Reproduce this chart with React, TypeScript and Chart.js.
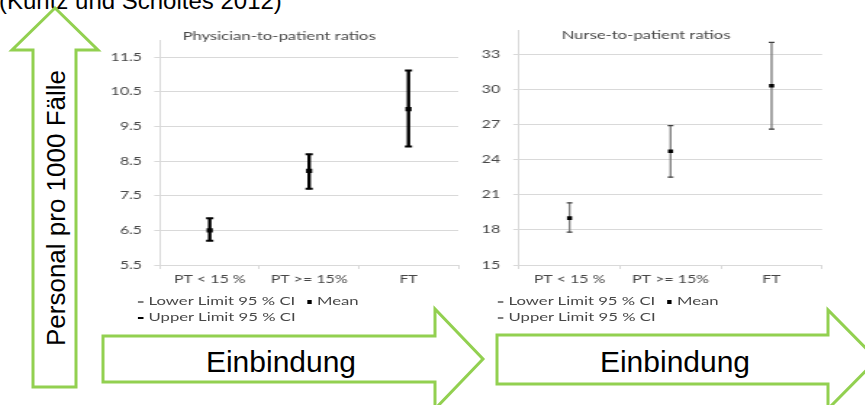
import React, { useEffect, useRef } from 'react';
import { Chart, registerables } from 'chart.js';

Chart.register(...registerables);

// ---- data ----
const categories = ['PT < 15 %', 'PT >= 15%', 'FT'];

const physicianMean = [6.5, 8.22, 10.0];
const physicianLower = [6.2, 7.7, 8.92];
const physicianUpper = [6.85, 8.7, 11.12];
const physicianTicks = [5.5, 6.5, 7.5, 8.5, 9.5, 10.5, 11.5];

const nurseMean = [19.0, 24.7, 30.3];
const nurseLower = [17.8, 22.5, 26.6];
const nurseUpper = [20.3, 26.9, 34.0];
const nurseTicks = [15, 18, 21, 24, 27, 30, 33];

const legendLabels = ['Lower Limit 95 % CI', 'Mean', 'Upper Limit 95 % CI'];

const STRETCH = 1.45;
const FONT = 'Lato, "Open Sans", sans-serif';
const GREY_TEXT = '#474747';
const GRID = '#d9d9d9';

type ChartProps = {
  left: number;
  top: number;
  canvasW: number;
  canvasH: number;
  title: string;
  titlePadTop: number;
  titlePadBottom: number;
  mean: number[];
  lower: number[];
  upper: number[];
  yMin: number;
  yMax: number;
  yTicks: number[];
  yWidth: number;
  yPad: number;
  padRight: number;
  barW: number;
  barColor: string;
  capColor: string;
  capW: number;
  capR: number;
  meanR: number;
  legendLeft: number;
  lowerDash: string;
  upperDash: string;
};

function ErrorChart(p: ChartProps) {
  const ref = useRef<HTMLCanvasElement | null>(null);

  useEffect(() => {
    if (!ref.current) return;
    const chart = new Chart(ref.current, {
      type: 'bar',
      data: {
        labels: categories,
        datasets: [
          {
            type: 'line',
            label: legendLabels[1],
            data: p.mean,
            showLine: false,
            pointStyle: 'rect',
            pointRadius: p.meanR,
            pointBackgroundColor: '#000000',
            pointBorderWidth: 0,
            order: 0,
          } as any,
          {
            type: 'line',
            label: legendLabels[0],
            data: p.lower,
            showLine: false,
            pointStyle: 'line',
            pointRadius: p.capR,
            pointBorderColor: p.capColor,
            pointBorderWidth: p.capW,
            order: 1,
          } as any,
          {
            type: 'line',
            label: legendLabels[2],
            data: p.upper,
            showLine: false,
            pointStyle: 'line',
            pointRadius: p.capR,
            pointBorderColor: p.capColor,
            pointBorderWidth: p.capW,
            order: 1,
          } as any,
          {
            type: 'bar',
            label: 'CI',
            data: p.lower.map((l, i) => [l, p.upper[i]]),
            backgroundColor: p.barColor,
            barThickness: p.barW,
            borderWidth: 0,
            order: 2,
          } as any,
        ],
      },
      options: {
        animation: false,
        responsive: false,
        maintainAspectRatio: false,
        devicePixelRatio: 1,
        events: [],
        layout: { padding: { top: 0, left: 0, bottom: 0, right: p.padRight } },
        plugins: {
          legend: { display: false },
          tooltip: { enabled: false },
          title: {
            display: true,
            text: p.title,
            color: GREY_TEXT,
            font: { family: FONT, size: 11.5, weight: 'normal', lineHeight: 1.2 },
            padding: { top: p.titlePadTop, bottom: p.titlePadBottom },
          },
        },
        scales: {
          x: {
            type: 'category',
            offset: true,
            grid: {
              offset: true,
              drawOnChartArea: false,
              drawTicks: true,
              tickLength: 4,
              color: GRID,
            },
            border: { color: GRID, width: 1 },
            ticks: {
              color: GREY_TEXT,
              font: { family: FONT, size: 11 },
              padding: 3.4,
              maxRotation: 0,
              autoSkip: false,
            },
            afterFit: (s: any) => {
              s.height = 30;
            },
          },
          y: {
            type: 'linear',
            min: p.yMin,
            max: p.yMax,
            afterBuildTicks: (s: any) => {
              s.ticks = p.yTicks.map((v) => ({ value: v }));
            },
            ticks: {
              color: GREY_TEXT,
              font: { family: FONT, size: 11 },
              padding: p.yPad,
              callback: (v: any) => String(v),
            },
            grid: { color: GRID, tickLength: 4, drawTicks: true },
            border: { color: GRID, width: 1 },
            afterFit: (s: any) => {
              s.width = p.yWidth;
              s.paddingTop = 0;
              s.paddingBottom = 0;
            },
          },
        },
      } as any,
    });
    return () => chart.destroy();
  }, []);

  const dash = (color: string) => (
    <span
      style={{
        display: 'inline-block',
        width: 4,
        height: 1.5,
        background: color,
        marginRight: 4,
        verticalAlign: 'middle',
      }}
    />
  );

  return (
    <div
      style={{
        position: 'absolute',
        left: p.left,
        top: p.top,
        width: p.canvasW,
        height: p.canvasH,
        transform: `scaleX(${STRETCH})`,
        transformOrigin: '0 0',
      }}
    >
      <canvas
        ref={ref}
        width={p.canvasW}
        height={p.canvasH}
        style={{ display: 'block', width: p.canvasW, height: p.canvasH }}
      />
      <div
        style={{
          position: 'absolute',
          left: p.legendLeft,
          top: 268,
          fontFamily: FONT,
          fontSize: 11.5,
          lineHeight: '16px',
          color: GREY_TEXT,
          whiteSpace: 'nowrap',
        }}
      >
        <div>
          {dash(p.lowerDash)}
          <span>{legendLabels[0]}</span>
          <span
            style={{
              display: 'inline-block',
              width: 3,
              height: 4,
              background: '#000',
              marginLeft: 8,
              marginRight: 4,
              verticalAlign: 'middle',
            }}
          />
          <span>{legendLabels[1]}</span>
        </div>
        <div>
          {dash(p.upperDash)}
          <span>{legendLabels[2]}</span>
        </div>
      </div>
    </div>
  );
}

const GREEN = '#92D050';
const SLIDE_FONT = '"Liberation Sans", Arial, sans-serif';

export default function App() {
  return (
    <div
      style={{
        position: 'fixed',
        left: 0,
        top: 0,
        width: 865,
        height: 405,
        overflow: 'hidden',
        background: '#ffffff',
      }}
    >
      <svg
        width={865}
        height={405}
        style={{ position: 'absolute', left: 0, top: 0 }}
      >
        <text x={-1} y={9} fontSize={24} fontFamily={SLIDE_FONT} fill="#000">
          (Kuntz und Scholtes 2012)
        </text>
        <polygon
          points="55,8 98,50 76,50 76,387 33,387 33,50 12,50"
          fill="#fff"
          stroke={GREEN}
          strokeWidth={3}
        />
        <text
          transform="translate(65,208) rotate(-90)"
          textAnchor="middle"
          fontSize={26}
          fontFamily={SLIDE_FONT}
          fill="#000"
        >
          Personal pro 1000 Fälle
        </text>
        <polygon
          points="103,336 435,336 435,309 483,359 435,409 435,382 103,382"
          fill="#fff"
          stroke={GREEN}
          strokeWidth={3}
        />
        <text x={281} y={372} textAnchor="middle" fontSize={30} fontFamily={SLIDE_FONT} fill="#000">
          Einbindung
        </text>
        <polygon
          points="497,335 828,335 828,310 877,359.5 828,409 828,384 497,384"
          fill="#fff"
          stroke={GREEN}
          strokeWidth={3}
        />
        <text x={675} y={372} textAnchor="middle" fontSize={30} fontFamily={SLIDE_FONT} fill="#000">
          Einbindung
        </text>
      </svg>

      <ErrorChart
        left={100}
        top={25}
        canvasW={262}
        canvasH={270}
        title="Physician-to-patient ratios"
        titlePadTop={4}
        titlePadBottom={-2.8}
        mean={physicianMean}
        lower={physicianLower}
        upper={physicianUpper}
        yMin={5.5}
        yMax={12}
        yTicks={physicianTicks}
        yWidth={41.4}
        yPad={8.4}
        padRight={15}
        barW={1.7}
        barColor="#000000"
        capColor="#000000"
        capW={2}
        capR={2.5}
        meanR={3}
        legendLeft={25.5}
        lowerDash="#7f7f7f"
        upperDash="#000000"
      />

      <ErrorChart
        left={470}
        top={25}
        canvasW={252}
        canvasH={270}
        title="Nurse-to-patient ratios"
        titlePadTop={3}
        titlePadBottom={-11.2}
        mean={nurseMean}
        lower={nurseLower}
        upper={nurseUpper}
        yMin={15}
        yMax={35}
        yTicks={nurseTicks}
        yWidth={33.8}
        yPad={9}
        padRight={9.2}
        barW={0.7}
        barColor="#7f7f7f"
        capColor="#404040"
        capW={1.2}
        capR={2}
        meanR={2.5}
        legendLeft={18.6}
        lowerDash="#7f7f7f"
        upperDash="#7f7f7f"
      />
    </div>
  );
}
